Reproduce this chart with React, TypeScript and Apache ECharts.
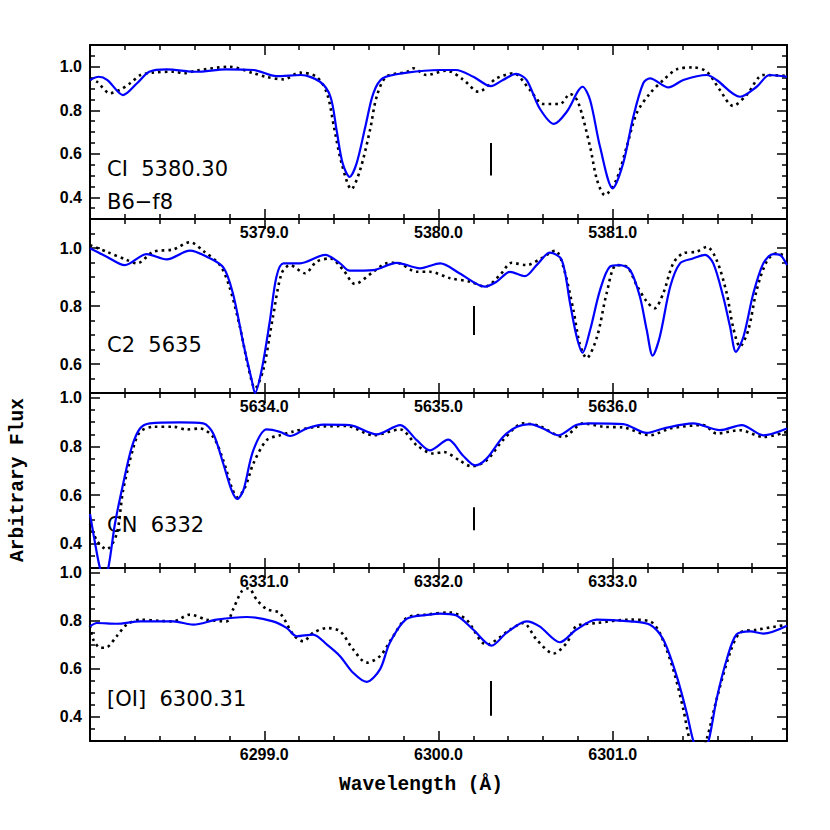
import React, { useEffect, useRef } from "react";
import * as echarts from "echarts";

// ---------- DATA ----------
const xRanges = [
  [5378, 5382],
  [5633, 5637],
  [6330, 6334],
  [6298, 6302],
];
const yRanges = [
  [0.3, 1.1],
  [0.5, 1.1],
  [0.3, 1.02],
  [0.3, 1.02],
];
const ySplit = [4, 3, 4, 4];

const panelTexts = [["CI  5380.30", "B6\u2212f8"], ["C2  5635"], ["CN  6332"], ["[OI]  6300.31"]];

const markerX = [5380.3, 5635.2, 6332.2, 6300.3];
const markerTop = [0.65, 0.8, 0.55, 0.55];
const markerBottom = [0.5, 0.7, 0.455, 0.405];

const ciBlue = [
  [5378.0, 0.939], [5378.05, 0.954], [5378.1, 0.939], [5378.19, 0.87], [5378.27, 0.924],
  [5378.34, 0.977], [5378.44, 0.988], [5378.61, 0.977], [5378.78, 0.988], [5378.94, 0.985],
  [5379.07, 0.957], [5379.21, 0.962], [5379.32, 0.931], [5379.38, 0.862], [5379.415, 0.709],
  [5379.45, 0.556], [5379.49, 0.494], [5379.53, 0.556], [5379.58, 0.724], [5379.626, 0.878],
  [5379.68, 0.947], [5379.82, 0.973], [5380.01, 0.985], [5380.1, 0.985], [5380.2, 0.954],
  [5380.3, 0.911], [5380.37, 0.939], [5380.445, 0.967], [5380.506, 0.939], [5380.58, 0.809],
  [5380.663, 0.737], [5380.736, 0.793], [5380.827, 0.908], [5380.87, 0.847], [5380.927, 0.632],
  [5381.0, 0.441], [5381.06, 0.556], [5381.118, 0.77], [5381.175, 0.924], [5381.214, 0.947],
  [5381.32, 0.905], [5381.405, 0.939], [5381.54, 0.962], [5381.596, 0.939], [5381.73, 0.862],
  [5381.826, 0.908], [5381.9, 0.962], [5382.0, 0.954],
];
const ciDot = [
  [5378.0, 0.946], [5378.04, 0.931], [5378.115, 0.878], [5378.17, 0.893], [5378.23, 0.924],
  [5378.29, 0.962], [5378.36, 0.973], [5378.48, 0.977], [5378.54, 0.97], [5378.61, 0.982],
  [5378.8, 1.0], [5378.94, 0.97], [5379.01, 0.954], [5379.11, 0.942], [5379.205, 0.973],
  [5379.3, 0.954], [5379.36, 0.878], [5379.4, 0.724], [5379.444, 0.556], [5379.5, 0.437],
  [5379.55, 0.525], [5379.607, 0.709], [5379.645, 0.862], [5379.7, 0.954], [5379.82, 0.977],
  [5379.855, 0.993], [5379.93, 0.962], [5380.047, 0.982], [5380.14, 0.942], [5380.23, 0.885],
  [5380.334, 0.947], [5380.43, 0.97], [5380.525, 0.893], [5380.6, 0.829], [5380.697, 0.829],
  [5380.755, 0.875], [5380.8, 0.84], [5380.87, 0.632], [5380.91, 0.479], [5380.955, 0.41],
  [5381.02, 0.479], [5381.08, 0.632], [5381.137, 0.786], [5381.214, 0.878], [5381.29, 0.939],
  [5381.367, 0.988], [5381.46, 0.997], [5381.54, 0.977], [5381.615, 0.893], [5381.69, 0.82],
  [5381.768, 0.87], [5381.864, 0.962], [5382.0, 0.958],
];

const c2Blue = [
  [5633.0, 0.999], [5633.096, 0.97], [5633.2, 0.941], [5633.325, 0.979], [5633.44, 0.961],
  [5633.574, 0.991], [5633.67, 0.97], [5633.765, 0.933], [5633.82, 0.844], [5633.88, 0.671],
  [5633.928, 0.545], [5633.947, 0.5], [5633.985, 0.579], [5634.033, 0.752], [5634.07, 0.901],
  [5634.11, 0.947], [5634.205, 0.947], [5634.35, 0.976], [5634.435, 0.947], [5634.49, 0.922],
  [5634.626, 0.924], [5634.76, 0.949], [5634.894, 0.93], [5635.01, 0.947], [5635.12, 0.913],
  [5635.267, 0.867], [5635.334, 0.884], [5635.41, 0.918], [5635.496, 0.903], [5635.563, 0.941],
  [5635.64, 0.984], [5635.707, 0.959], [5635.755, 0.809], [5635.793, 0.694], [5635.827, 0.639],
  [5635.87, 0.717], [5635.927, 0.855], [5635.984, 0.936], [5636.04, 0.941], [5636.1, 0.924],
  [5636.156, 0.832], [5636.195, 0.717], [5636.229, 0.629], [5636.27, 0.694], [5636.33, 0.867],
  [5636.386, 0.947], [5636.46, 0.964], [5636.53, 0.976], [5636.577, 0.947], [5636.634, 0.832],
  [5636.673, 0.729], [5636.707, 0.642], [5636.75, 0.694], [5636.807, 0.844], [5636.864, 0.947],
  [5636.92, 0.979], [5636.96, 0.976], [5637.0, 0.941],
];
const c2Dot = [
  [5633.0, 1.01], [5633.096, 0.987], [5633.21, 0.959], [5633.27, 0.947], [5633.363, 0.987],
  [5633.478, 0.995], [5633.574, 1.02], [5633.65, 0.99], [5633.746, 0.941], [5633.8, 0.867],
  [5633.86, 0.729], [5633.908, 0.591], [5633.947, 0.516], [5633.994, 0.579], [5634.05, 0.763],
  [5634.1, 0.913], [5634.148, 0.941], [5634.234, 0.913], [5634.3, 0.953], [5634.377, 0.964],
  [5634.454, 0.924], [5634.52, 0.876], [5634.626, 0.918], [5634.7, 0.947], [5634.76, 0.949],
  [5634.875, 0.918], [5634.95, 0.918], [5635.066, 0.896], [5635.18, 0.884], [5635.267, 0.867],
  [5635.353, 0.907], [5635.42, 0.949], [5635.506, 0.941], [5635.58, 0.961], [5635.67, 0.991],
  [5635.716, 0.936], [5635.774, 0.786], [5635.81, 0.671], [5635.85, 0.62], [5635.91, 0.694],
  [5635.965, 0.844], [5636.02, 0.941], [5636.08, 0.936], [5636.137, 0.872], [5636.195, 0.815],
  [5636.24, 0.792], [5636.29, 0.844], [5636.347, 0.947], [5636.405, 0.982], [5636.48, 0.987],
  [5636.54, 1.004], [5636.596, 0.959], [5636.654, 0.844], [5636.69, 0.729], [5636.73, 0.66],
  [5636.778, 0.717], [5636.826, 0.855], [5636.883, 0.953], [5636.94, 0.982], [5637.0, 0.97],
];

const cnBlue = [
  [6330.0, 0.522], [6330.03, 0.398], [6330.057, 0.3], [6330.08, 0.26], [6330.105, 0.3],
  [6330.143, 0.481], [6330.19, 0.646], [6330.24, 0.798], [6330.287, 0.874], [6330.344, 0.895],
  [6330.516, 0.899], [6330.65, 0.895], [6330.707, 0.853], [6330.765, 0.729], [6330.813, 0.619],
  [6330.845, 0.584], [6330.88, 0.619], [6330.937, 0.784], [6331.014, 0.87], [6331.09, 0.86],
  [6331.148, 0.843], [6331.243, 0.874], [6331.34, 0.89], [6331.49, 0.888], [6331.645, 0.85],
  [6331.78, 0.888], [6331.875, 0.826], [6331.95, 0.784], [6332.056, 0.828], [6332.14, 0.763],
  [6332.21, 0.722], [6332.276, 0.75], [6332.37, 0.839], [6332.45, 0.881], [6332.525, 0.892],
  [6332.6, 0.874], [6332.687, 0.846], [6332.79, 0.888], [6332.87, 0.895], [6333.06, 0.892],
  [6333.195, 0.856], [6333.29, 0.874], [6333.462, 0.895], [6333.615, 0.867], [6333.74, 0.888],
  [6333.864, 0.846], [6334.0, 0.874],
];
const cnDot = [
  [6330.0, 0.481], [6330.04, 0.412], [6330.096, 0.377], [6330.153, 0.44], [6330.19, 0.62],
  [6330.25, 0.798], [6330.287, 0.86], [6330.363, 0.881], [6330.48, 0.881], [6330.555, 0.87],
  [6330.63, 0.874], [6330.707, 0.839], [6330.765, 0.743], [6330.813, 0.632], [6330.845, 0.591],
  [6330.89, 0.632], [6330.937, 0.729], [6331.014, 0.826], [6331.09, 0.846], [6331.16, 0.86],
  [6331.3, 0.881], [6331.473, 0.884], [6331.626, 0.846], [6331.78, 0.87], [6331.875, 0.805],
  [6331.97, 0.771], [6332.03, 0.777], [6332.12, 0.743], [6332.19, 0.718], [6332.276, 0.743],
  [6332.37, 0.826], [6332.487, 0.895], [6332.58, 0.884], [6332.716, 0.839], [6332.83, 0.895],
  [6332.946, 0.881], [6333.06, 0.878], [6333.214, 0.846], [6333.33, 0.874], [6333.52, 0.888],
  [6333.596, 0.853], [6333.73, 0.867], [6333.864, 0.839], [6334.0, 0.86],
];

const oiBlue = [
  [6298.0, 0.777], [6298.04, 0.791], [6298.153, 0.788], [6298.287, 0.798], [6298.478, 0.798],
  [6298.593, 0.784], [6298.727, 0.805], [6298.9, 0.816], [6299.05, 0.798], [6299.13, 0.77],
  [6299.186, 0.736], [6299.28, 0.743], [6299.36, 0.701], [6299.435, 0.653], [6299.51, 0.584],
  [6299.588, 0.546], [6299.664, 0.598], [6299.72, 0.708], [6299.817, 0.808], [6299.95, 0.826],
  [6300.01, 0.83], [6300.1, 0.823], [6300.2, 0.763], [6300.305, 0.697], [6300.39, 0.75],
  [6300.506, 0.798], [6300.58, 0.777], [6300.697, 0.711], [6300.79, 0.763], [6300.908, 0.805],
  [6301.1, 0.798], [6301.214, 0.784], [6301.29, 0.722], [6301.367, 0.57], [6301.424, 0.419],
  [6301.462, 0.301], [6301.505, 0.22], [6301.55, 0.3], [6301.596, 0.474], [6301.654, 0.639],
  [6301.71, 0.743], [6301.79, 0.756], [6301.864, 0.747], [6302.0, 0.78],
];
const oiDot = [
  [6298.0, 0.78], [6298.02, 0.72], [6298.06, 0.688], [6298.096, 0.69], [6298.153, 0.736],
  [6298.21, 0.784], [6298.287, 0.805], [6298.4, 0.8], [6298.478, 0.798], [6298.574, 0.826],
  [6298.67, 0.805], [6298.784, 0.798], [6298.82, 0.846], [6298.87, 0.922], [6298.91, 0.936],
  [6298.957, 0.888], [6299.014, 0.849], [6299.09, 0.832], [6299.166, 0.743], [6299.224, 0.715],
  [6299.28, 0.75], [6299.36, 0.77], [6299.435, 0.757], [6299.51, 0.681], [6299.588, 0.626],
  [6299.664, 0.653], [6299.74, 0.736], [6299.817, 0.812], [6299.93, 0.826], [6300.066, 0.835],
  [6300.16, 0.805], [6300.276, 0.701], [6300.41, 0.763], [6300.487, 0.791], [6300.563, 0.722],
  [6300.66, 0.664], [6300.736, 0.708], [6300.79, 0.777], [6300.908, 0.791], [6301.1, 0.805],
  [6301.214, 0.798], [6301.27, 0.75], [6301.347, 0.598], [6301.405, 0.432], [6301.443, 0.3],
  [6301.49, 0.22], [6301.54, 0.31], [6301.596, 0.474], [6301.673, 0.667], [6301.73, 0.75],
  [6301.826, 0.763], [6302.0, 0.784],
];

const blueSeries = [ciBlue, c2Blue, cnBlue, oiBlue];
const dotSeries = [ciDot, c2Dot, cnDot, oiDot];

// ---------- LAYOUT ----------
const gridTops = [45, 219, 393, 568];
const gridHeights = [174, 174, 175, 173];
const textYs = [[169, 202], [345], [525], [699]];

export default function App() {
  const ref = useRef<HTMLDivElement>(null);

  useEffect(() => {
    if (!ref.current) return;
    const chart = echarts.init(ref.current, undefined, { renderer: "svg" });

    const tickLine = { color: "#000", width: 1.5 };
    const labelFont = {
      fontFamily: "Liberation Sans",
      fontWeight: "bold" as const,
      fontSize: 16,
      color: "#000",
    };

    const grids: any[] = [];
    const xAxes: any[] = [];
    const yAxes: any[] = [];
    const series: any[] = [];
    const graphics: any[] = [];

    for (let i = 0; i < 4; i++) {
      grids.push({ left: 90, right: 43, top: gridTops[i], height: gridHeights[i], containLabel: false });
      const [xmin, xmax] = xRanges[i];
      const [ymin, ymax] = yRanges[i];
      for (const pos of ["bottom", "top"]) {
        xAxes.push({
          type: "value",
          gridIndex: i,
          position: pos,
          min: xmin,
          max: xmax,
          interval: 1,
          axisLine: { show: true, onZero: false, lineStyle: { color: "#000", width: 2 } },
          axisTick: { show: true, inside: true, length: 10, lineStyle: tickLine },
          minorTick: { show: true, splitNumber: 5, length: 5, lineStyle: tickLine },
          splitLine: { show: false },
          axisLabel: {
            show: pos === "bottom",
            margin: 5,
            ...labelFont,
            formatter: (v: number) =>
              Math.abs(v - xmin) < 1e-6 || Math.abs(v - xmax) < 1e-6 ? "" : v.toFixed(1),
          },
        });
      }
      for (const pos of ["left", "right"]) {
        yAxes.push({
          type: "value",
          gridIndex: i,
          position: pos,
          min: ymin,
          max: ymax,
          splitNumber: ySplit[i],
          axisLine: { show: true, onZero: false, lineStyle: { color: "#000", width: 2 } },
          axisTick: { show: true, inside: true, length: 10, lineStyle: tickLine },
          minorTick: { show: true, splitNumber: 4, length: 5, lineStyle: tickLine },
          splitLine: { show: false },
          axisLabel: {
            show: pos === "left",
            margin: 8,
            ...labelFont,
            formatter: (v: number) => {
              const k = v / 0.2;
              return Math.abs(k - Math.round(k)) < 1e-6 ? v.toFixed(1) : "";
            },
          },
        });
      }
      series.push({
        type: "line",
        xAxisIndex: 2 * i,
        yAxisIndex: 2 * i,
        data: dotSeries[i],
        showSymbol: false,
        smooth: 0.3,
        clip: true,
        lineStyle: { color: "#000", width: 2.6, type: [2.6, 4], cap: "butt" },
        markLine: {
          silent: true,
          symbol: ["none", "none"],
          label: { show: false },
          lineStyle: { color: "#000", width: 2, type: "solid" },
          data: [[{ coord: [markerX[i], markerTop[i]] }, { coord: [markerX[i], markerBottom[i]] }]],
        },
      });
      series.push({
        type: "line",
        xAxisIndex: 2 * i,
        yAxisIndex: 2 * i,
        data: blueSeries[i],
        showSymbol: false,
        smooth: 0.3,
        clip: true,
        lineStyle: { color: "#0000ff", width: 2.2 },
      });
      panelTexts[i].forEach((t, j) => {
        graphics.push({
          type: "text",
          x: 107,
          y: textYs[i][j],
          style: {
            text: t,
            fill: "#000",
            font: '21px "DejaVu Sans"',
            align: "left",
            verticalAlign: "middle",
          },
        });
      });
    }

    graphics.push({
      type: "text",
      x: 18,
      y: 480,
      rotation: Math.PI / 2,
      style: {
        text: "Arbitrary Flux",
        fill: "#000",
        font: 'bold 19.5px "Liberation Mono"',
        align: "center",
        verticalAlign: "middle",
      },
    });
    graphics.push({
      type: "text",
      x: 421,
      y: 785,
      style: {
        text: "Wavelength (\u00c5)",
        fill: "#000",
        font: 'bold 19.5px "Liberation Mono"',
        align: "center",
        verticalAlign: "middle",
      },
    });

    chart.setOption({
      animation: false,
      backgroundColor: "#fff",
      grid: grids,
      xAxis: xAxes,
      yAxis: yAxes,
      series,
      graphic: graphics,
    });

    return () => chart.dispose();
  }, []);

  return (
    <div
      ref={ref}
      style={{ position: "absolute", left: 0, top: 0, width: 830, height: 830 }}
    />
  );
}
